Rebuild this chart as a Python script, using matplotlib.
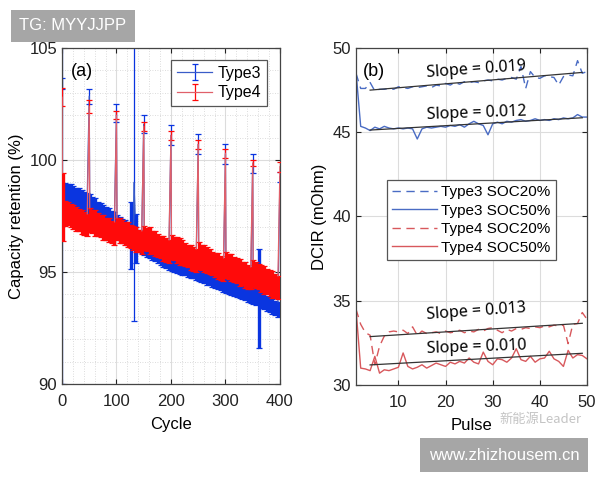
import matplotlib
matplotlib.use("Agg")
import matplotlib.pyplot as plt
import numpy as np

plt.rcParams['font.family'] = ['Liberation Sans', 'DejaVu Sans']

# ---------------- panel (a): capacity retention ----------------
cycle_band = list(range(1, 400, 5))  # 80 cycles

type3_band = [
    98.30, 98.38, 98.36, 98.30, 98.26, 98.20, 98.15, 98.08, 98.02, 97.95,
    97.90, 97.82, 97.72, 97.62, 97.55, 97.47, 97.38, 97.30, 97.22, 97.15,
    97.05, 96.95, 96.88, 96.80, 96.72, 96.63, 96.56, 96.48, 96.40, 96.33,
    96.25, 96.17, 96.08, 96.00, 95.92, 95.85, 95.77, 95.70, 95.62, 95.56,
    95.50, 95.45, 95.40, 95.35, 95.30, 95.26, 95.21, 95.16, 95.11, 95.06,
    95.02, 94.96, 94.90, 94.84, 94.78, 94.73, 94.67, 94.62, 94.56, 94.50,
    94.46, 94.41, 94.36, 94.30, 94.25, 94.20, 94.15, 94.10, 94.04, 93.99,
    93.94, 93.88, 93.82, 93.75, 93.68, 93.61, 93.54, 93.47, 93.40, 93.33,
]
type3_band_err = [
    0.55, 0.60, 0.58, 0.62, 0.60, 0.57, 0.60, 0.58, 0.55, 0.58,
    0.56, 0.55, 0.58, 0.52, 0.55, 0.50, 0.53, 0.55, 0.50, 0.52,
    0.50, 0.52, 0.48, 0.50, 0.52, 1.50, 0.50, 1.10, 0.48, 0.50,
    0.48, 0.50, 0.46, 0.48, 0.45, 0.47, 0.45, 0.46, 0.44, 0.45,
    0.45, 0.43, 0.44, 0.42, 0.43, 0.41, 0.42, 0.43, 0.40, 0.42,
    0.40, 0.42, 0.40, 0.41, 0.38, 0.40, 0.39, 0.40, 0.38, 0.39,
    0.38, 0.37, 0.39, 0.36, 0.38, 0.36, 0.37, 0.35, 0.37, 0.36,
    0.36, 0.35, 2.20, 0.34, 0.35, 0.33, 0.34, 0.33, 0.32, 0.32,
]
type4_band = [
    97.90, 97.62, 97.60, 97.52, 97.45, 97.38, 97.33, 97.24, 97.18, 97.10,
    97.32, 97.25, 97.20, 97.12, 97.06, 96.98, 96.92, 96.86, 96.78, 96.72,
    96.92, 96.85, 96.80, 96.72, 96.66, 96.58, 96.52, 96.46, 96.38, 96.32,
    96.52, 96.45, 96.40, 96.32, 96.26, 96.18, 96.12, 96.05, 95.98, 95.92,
    96.12, 96.05, 96.00, 95.92, 95.86, 95.78, 95.72, 95.66, 95.58, 95.52,
    95.75, 95.66, 95.60, 95.52, 95.47, 95.38, 95.32, 95.26, 95.18, 95.12,
    95.32, 95.25, 95.20, 95.12, 95.06, 94.98, 94.92, 94.86, 94.78, 94.72,
    94.92, 94.85, 94.80, 94.72, 94.66, 94.58, 94.52, 94.46, 94.38, 94.32,
]
type4_band_err = [
    1.50, 0.55, 0.52, 0.50, 0.55, 0.53, 0.50, 0.54, 0.52, 0.50,
    0.55, 0.50, 0.58, 0.52, 0.50, 0.55, 0.50, 0.53, 0.50, 0.52,
    0.50, 0.55, 0.52, 0.50, 0.56, 0.50, 0.53, 0.55, 0.50, 0.52,
    0.55, 0.52, 0.60, 0.50, 0.55, 0.52, 0.50, 0.56, 0.52, 0.50,
    0.55, 0.52, 0.58, 0.62, 0.55, 0.52, 0.50, 0.55, 0.53, 0.50,
    0.60, 0.55, 0.60, 0.58, 0.56, 0.52, 0.55, 0.58, 0.52, 0.50,
    0.58, 0.55, 0.60, 0.56, 0.55, 0.60, 0.52, 0.58, 0.55, 0.50,
    0.60, 0.58, 0.55, 0.60, 0.62, 0.55, 0.58, 0.60, 0.55, 0.52,
]

# capacity checks every 50 cycles
check_cycle = [0, 50, 100, 150, 200, 250, 300, 350, 400]
type3_check = [103.40, 102.85, 102.10, 101.60, 101.10, 100.70, 100.25, 99.85, 99.25]
type3_check_err = [0.25, 0.33, 0.40, 0.40, 0.45, 0.45, 0.45, 0.42, 0.22]
type4_check = [102.80, 102.40, 102.00, 101.50, 101.10, 100.70, 100.30, 99.87, 99.70]
type4_check_err = [0.40, 0.30, 0.18, 0.20, 0.20, 0.20, 0.20, 0.15, 0.22]

# odd Type3 points with very large scatter
type3_odd_cycle = [0.5, 132]
type3_odd = [98.0, 99.0]
type3_odd_err = [8.0, 6.2]

# ---------------- panel (b): DCIR vs pulse ----------------
pulse = list(range(1, 51))
t3_soc20 = [
    48.5, 47.6, 47.6, 47.95, 47.45, 47.55, 47.55, 47.6, 47.55, 47.7,
    47.65, 47.6, 47.7, 47.65, 47.7, 47.75, 47.65, 47.8, 47.75, 47.9,
    47.8, 47.95, 47.85, 48.0, 47.95, 48.0, 47.95, 48.05, 48.1, 48.05,
    48.15, 48.1, 48.2, 48.25, 48.15, 48.9, 47.6, 48.6, 48.25, 48.2,
    48.35, 48.3, 48.25, 47.8, 48.3, 48.4, 48.35, 49.25, 48.5, 48.6,
]
t3_soc50 = [
    48.6, 45.35, 45.25, 45.1, 45.3, 45.2, 45.35, 45.25, 45.2, 45.25,
    45.2, 45.25, 45.2, 44.6, 45.2, 45.3, 45.25, 45.3, 45.35, 45.3,
    45.4, 45.35, 45.45, 45.3, 45.5, 45.65, 45.5, 45.4, 44.85, 45.5,
    45.6, 45.5, 45.65, 45.6, 45.7, 45.75, 45.65, 45.7, 45.8, 45.7,
    45.75, 45.7, 45.8, 45.75, 45.85, 45.8, 45.85, 46.05, 45.9, 45.9,
]
t4_soc20 = [
    34.5, 33.6, 33.1, 32.95, 31.2, 32.3, 32.9, 33.15, 33.2, 33.15,
    33.25, 33.05, 33.45, 32.95, 33.2, 33.05, 33.1, 33.15, 33.05, 33.2,
    33.1, 33.15, 33.25, 33.1, 33.2, 33.15, 33.3, 33.2, 33.35, 33.4,
    33.25, 33.1, 33.3, 33.2, 33.35, 33.3, 33.4, 33.35, 33.45, 33.4,
    33.5, 33.45, 33.55, 33.5, 33.55, 32.45, 33.6, 33.65, 34.3, 33.9,
]
t4_soc50 = [
    34.5, 31.0, 30.95, 30.85, 31.7, 30.7, 30.9, 30.85, 30.95, 31.05,
    31.9, 31.1, 30.95, 31.05, 31.2, 31.0, 31.15, 31.3, 31.2, 31.1,
    31.35, 31.25, 31.4, 31.3, 31.6, 31.35, 31.25, 31.95, 31.4, 31.2,
    31.55, 31.5, 31.35, 31.6, 32.15, 31.5, 31.4, 31.7, 31.35, 31.55,
    31.6, 32.0, 31.55, 31.4, 31.1, 32.05, 31.6, 31.8, 31.75, 31.55,
]
# linear fits (start / end pulse and values) with their labelled slopes
fit_pulse = [4, 49]
fit_t3_soc20 = [47.50, 48.55]
fit_t3_soc50 = [45.13, 45.86]
fit_t4_soc20 = [32.87, 33.66]
fit_t4_soc50 = [31.19, 31.88]
slope_labels = ["Slope = 0.019", "Slope = 0.012", "Slope = 0.013", "Slope = 0.010"]


def merge(*parts):
    x = np.concatenate([p[0] for p in parts]).astype(float)
    y = np.concatenate([p[1] for p in parts]).astype(float)
    e = np.concatenate([p[2] for p in parts]).astype(float)
    order = np.argsort(x, kind="stable")
    return x[order], y[order], e[order]


x3, y3, e3 = merge((cycle_band, type3_band, type3_band_err),
                   (check_cycle, type3_check, type3_check_err),
                   (type3_odd_cycle, type3_odd, type3_odd_err))
x4, y4, e4 = merge((cycle_band, type4_band, type4_band_err),
                   (check_cycle, type4_check, type4_check_err))

blue_line, blue_bar = "#3a5cc8", "#0a35e0"
red_line, red_bar = "#e0606a", "#ff0a0a"

fig = plt.figure(figsize=(6, 4.8), dpi=100)
ax = fig.add_axes([0.1033, 0.2, 0.3633, 0.7])
bx = fig.add_axes([0.5933, 0.198, 0.385, 0.702])

# full series (line, thin bars, caps), then thick bars to fill the band
ax.errorbar(x3, y3, yerr=e3, color=blue_line, ecolor=blue_bar, lw=0.9,
            elinewidth=0.9, capsize=2.2, capthick=0.9, label="Type3", zorder=2)
ax.errorbar(cycle_band, type3_band, yerr=type3_band_err, fmt="none",
            ecolor=blue_bar, elinewidth=2.4, zorder=3)
ax.errorbar(x4, y4, yerr=e4, color=red_line, ecolor=red_bar, lw=0.9,
            elinewidth=0.9, capsize=2.2, capthick=0.9, label="Type4", zorder=3.5)
ax.errorbar(cycle_band, type4_band, yerr=type4_band_err, fmt="none",
            ecolor=red_bar, elinewidth=2.4, zorder=4)

ax.set_xlim(0, 400)
ax.set_ylim(90, 105)
ax.set_xticks([0, 100, 200, 300, 400])
ax.set_yticks([90, 95, 100, 105])
ax.set_xticks(np.arange(0, 401, 20), minor=True)
ax.set_yticks(np.arange(90, 106, 1), minor=True)
ax.grid(True, which="major", color="#dcdcdc", lw=0.8)
ax.grid(True, which="minor", color="#d0d0d0", lw=0.6, ls=(0, (1, 2)))
ax.set_axisbelow(True)
ax.set_xlabel("Cycle", fontsize=12, labelpad=6)
ax.set_ylabel("Capacity retention (%)", fontsize=12)
ax.text(0.04, 0.93, "(a)", transform=ax.transAxes, fontsize=13, va="center")
leg = ax.legend(loc="upper right", fontsize=11.5, fancybox=False, framealpha=1,
                edgecolor="#555555", handlelength=2.2, borderpad=0.35,
                labelspacing=0.3, handletextpad=0.35, borderaxespad=0,
                bbox_to_anchor=(0.94, 0.964))
leg.get_frame().set_linewidth(0.9)
leg.set_zorder(10)

# panel (b)
bx.plot(pulse, t3_soc20, color="#4a6cc4", lw=1.0, ls=(0, (6, 4)), label="Type3 SOC20%")
bx.plot(pulse, t3_soc50, color="#4a6cc4", lw=1.0, label="Type3 SOC50%")
bx.plot(pulse, t4_soc20, color="#d8585c", lw=1.0, ls=(0, (6, 4)), label="Type4 SOC20%")
bx.plot(pulse, t4_soc50, color="#d8585c", lw=1.0, label="Type4 SOC50%")
for fit in (fit_t3_soc20, fit_t3_soc50, fit_t4_soc20, fit_t4_soc50):
    bx.plot(fit_pulse, fit, color="#333333", lw=0.9)

label_pos = [(26.6, 48.7, 4), (26.6, 46.15, 2), (26.6, 34.35, 4), (26.6, 32.25, 2)]
for (px, py, rot), lab in zip(label_pos, slope_labels):
    bx.text(px, py, lab, ha="center", va="center", fontsize=11.5, rotation=rot,
            family=["Noto Sans", "DejaVu Sans"])

bx.set_xlim(1, 50)
bx.set_ylim(30, 50)
bx.set_xticks([10, 20, 30, 40, 50])
bx.set_yticks([30, 35, 40, 45, 50])
bx.grid(True, color="#dcdcdc", lw=0.8)
bx.set_axisbelow(True)
bx.set_xlabel("Pulse", fontsize=12, labelpad=6)
bx.set_ylabel("DCIR (mOhm)", fontsize=12)
bx.text(0.03, 0.93, "(b)", transform=bx.transAxes, fontsize=13, va="center")
leg2 = bx.legend(loc="center", fontsize=11, fancybox=False, framealpha=1,
                 edgecolor="#555555", handlelength=2.9, borderpad=0.35,
                 labelspacing=0.3, handletextpad=0.3,
                 bbox_to_anchor=(0.5, 0.49))
leg2.get_frame().set_linewidth(0.9)

for a in (ax, bx):
    a.tick_params(which="both", direction="in", top=True, right=True,
                  labelsize=12, colors="#222222")
    a.tick_params(axis="x", pad=7)
    a.tick_params(which="minor", length=0)
    for s in a.spines.values():
        s.set_color("#444444")
        s.set_linewidth(0.9)

# watermarks present in the source image
fig.text(0.1215, 0.946, "TG: MYYJJPP", fontsize=12, color="white", ha="center", va="center",
         bbox=dict(boxstyle="square,pad=0.5", fc="#a6a6a6", ec="none"))
fig.text(0.84, 0.052, "www.zhizhousem.cn", fontsize=12, color="white", ha="center",
         va="center", bbox=dict(boxstyle="square,pad=0.55", fc="#a6a6a6", ec="none"))
fig.text(0.9, 0.125, "新能源Leader", fontsize=9.5, color="#c4c4c4", ha="center",
         va="center", family=["Noto Sans CJK SC", "DejaVu Sans"])

fig.savefig("out.png", dpi=100)
